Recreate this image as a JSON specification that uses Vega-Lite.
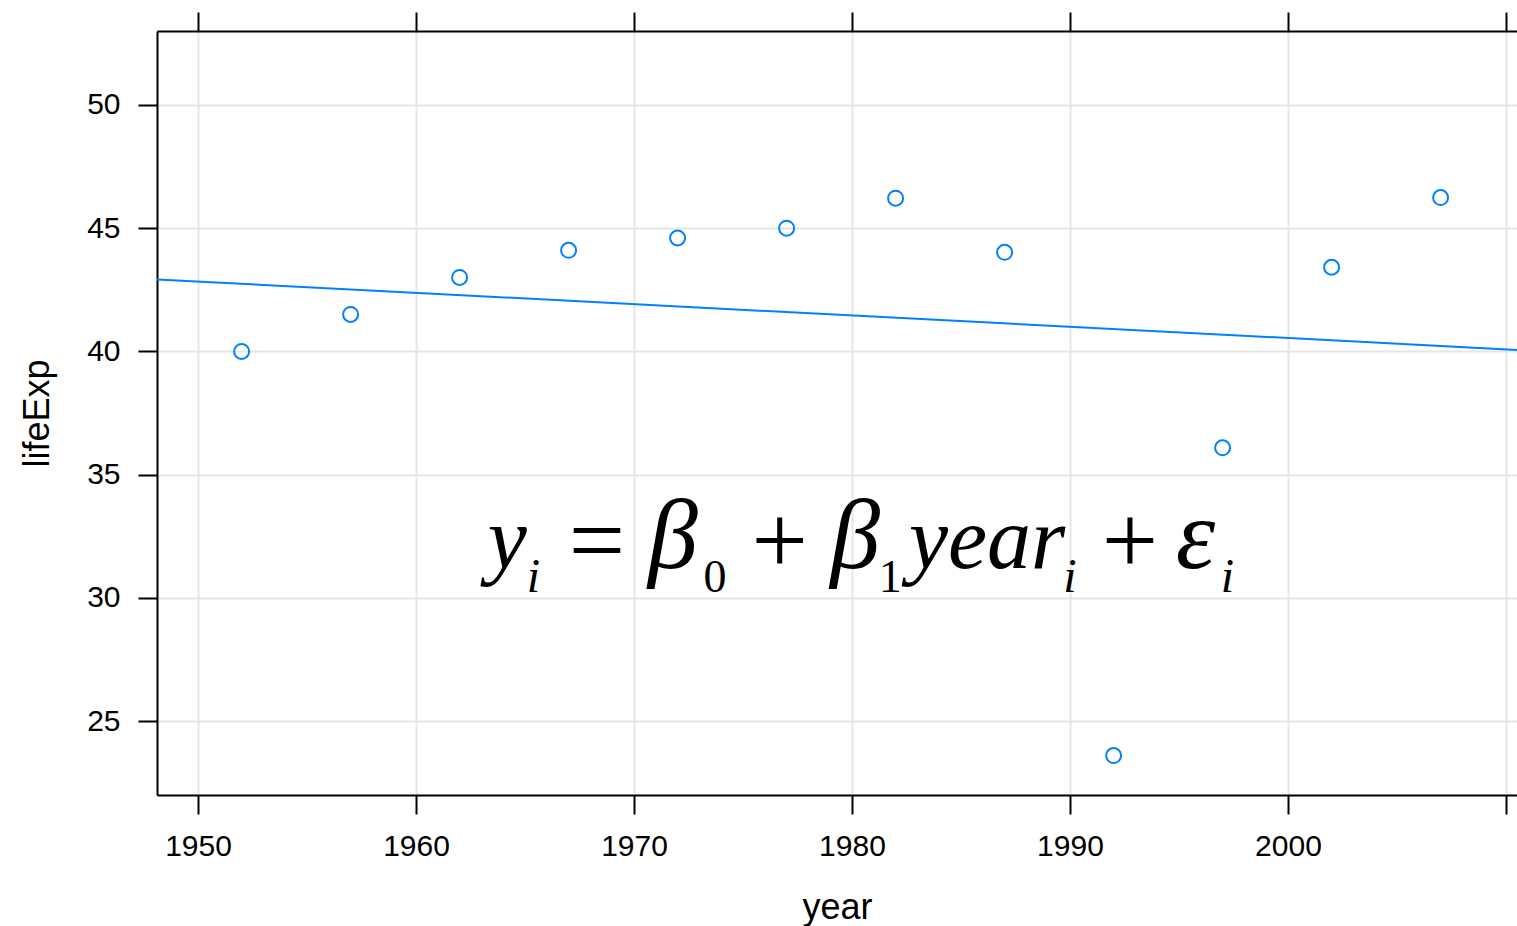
{
  "$schema": "https://vega.github.io/schema/vega-lite/v6.json",
  "autosize": {"type": "none"},
  "padding": {"left": 157, "top": 31, "right": 0, "bottom": 131},
  "width": 1360,
  "height": 764,
  "background": "white",
  "config": {
    "view": {"stroke": null},
    "axis": {
      "domainColor": "black",
      "domainWidth": 2,
      "tickColor": "black",
      "tickWidth": 2,
      "tickSize": 19,
      "labelColor": "black",
      "labelFont": "Liberation Sans",
      "labelFontSize": 30,
      "titleColor": "black",
      "titleFont": "Liberation Sans",
      "titleFontSize": 36,
      "titleFontWeight": "normal",
      "gridColor": "#e6e6e6",
      "gridWidth": 2
    }
  },
  "datasets": {
    "rwanda": [
      {"year": 1952, "lifeExp": 40.0},
      {"year": 1957, "lifeExp": 41.5},
      {"year": 1962, "lifeExp": 43.0},
      {"year": 1967, "lifeExp": 44.1},
      {"year": 1972, "lifeExp": 44.6},
      {"year": 1977, "lifeExp": 45.0},
      {"year": 1982, "lifeExp": 46.218},
      {"year": 1987, "lifeExp": 44.02},
      {"year": 1992, "lifeExp": 23.599},
      {"year": 1997, "lifeExp": 36.087},
      {"year": 2002, "lifeExp": 43.413},
      {"year": 2007, "lifeExp": 46.242}
    ],
    "equation": [
      {"token": "y", "year": 1964.19, "lifeExp": 31.21, "kind": "mi"},
      {"token": "i", "year": 1965.39, "lifeExp": 30.235, "kind": "si"},
      {"token": "=", "year": 1968.3, "lifeExp": 30.97, "kind": "op"},
      {"token": "β", "year": 1971.79, "lifeExp": 31.21, "kind": "gr"},
      {"token": "0", "year": 1973.72, "lifeExp": 30.235, "kind": "su"},
      {"token": "+", "year": 1976.68, "lifeExp": 30.97, "kind": "op"},
      {"token": "β", "year": 1980.14, "lifeExp": 31.21, "kind": "gr"},
      {"token": "1", "year": 1981.75, "lifeExp": 30.235, "kind": "su"},
      {"token": "year", "year": 1986.2, "lifeExp": 31.21, "kind": "mi"},
      {"token": "i", "year": 1990.0, "lifeExp": 30.235, "kind": "si"},
      {"token": "+", "year": 1992.75, "lifeExp": 30.97, "kind": "op"},
      {"token": "ε", "year": 1995.75, "lifeExp": 31.21, "kind": "gr"},
      {"token": "i", "year": 1997.22, "lifeExp": 30.235, "kind": "si"}
    ]
  },
  "resolve": {"axis": {"x": "independent", "y": "independent"}},
  "layer": [
    {
      "data": {"name": "rwanda"},
      "mark": {"type": "point", "shape": "circle", "filled": false, "stroke": "#0080ff", "strokeWidth": 2, "size": 225, "opacity": 1},
      "encoding": {
        "x": {
          "field": "year", "type": "quantitative",
          "scale": {"domain": [1948.119, 2010.505], "nice": false, "zero": false},
          "axis": {"orient": "bottom", "values": [1950, 1960, 1970, 1980, 1990, 2000, 2010], "format": "d", "labelExpr": "datum.value === 2010 ? '' : datum.label", "grid": true, "labelPadding": 17, "title": "year", "titlePadding": 29, "labelFlush": false, "labelOverlap": false}
        },
        "y": {
          "field": "lifeExp", "type": "quantitative",
          "scale": {"domain": [22, 53], "nice": false, "zero": false},
          "axis": {"orient": "left", "values": [25, 30, 35, 40, 45, 50], "grid": true, "labelPadding": 18, "title": "lifeExp", "titlePadding": 30, "labelFlush": false, "labelOverlap": false}
        }
      }
    },
    {
      "data": {"name": "rwanda"},
      "transform": [{"regression": "lifeExp", "on": "year", "extent": [1948.119, 2010.505]}],
      "mark": {"type": "line", "color": "#0080ff", "strokeWidth": 2, "clip": true},
      "encoding": {
        "x": {
          "field": "year", "type": "quantitative",
          "axis": {"orient": "top", "values": [1950, 1960, 1970, 1980, 1990, 2000, 2010], "labels": false, "grid": false, "title": null}
        },
        "y": {"field": "lifeExp", "type": "quantitative", "axis": null}
      }
    },
    {
      "data": {"name": "equation"},
      "transform": [{"filter": "datum.kind === 'mi'"}],
      "mark": {"type": "text", "font": "Liberation Serif", "fontStyle": "italic", "fontSize": 88, "align": "center", "baseline": "alphabetic", "color": "black"},
      "encoding": {
        "x": {"field": "year", "type": "quantitative", "axis": null},
        "y": {"field": "lifeExp", "type": "quantitative", "axis": null},
        "text": {"field": "token"}
      }
    },
    {
      "data": {"name": "equation"},
      "transform": [{"filter": "datum.kind === 'gr'"}],
      "mark": {"type": "text", "font": "Liberation Serif", "fontStyle": "italic", "fontSize": 100, "align": "center", "baseline": "alphabetic", "color": "black"},
      "encoding": {
        "x": {"field": "year", "type": "quantitative", "axis": null},
        "y": {"field": "lifeExp", "type": "quantitative", "axis": null},
        "text": {"field": "token"}
      }
    },
    {
      "data": {"name": "equation"},
      "transform": [{"filter": "datum.kind === 'op'"}],
      "mark": {"type": "text", "font": "Liberation Serif", "fontSize": 100, "align": "center", "baseline": "alphabetic", "color": "black"},
      "encoding": {
        "x": {"field": "year", "type": "quantitative", "axis": null},
        "y": {"field": "lifeExp", "type": "quantitative", "axis": null},
        "text": {"field": "token"}
      }
    },
    {
      "data": {"name": "equation"},
      "transform": [{"filter": "datum.kind === 'si'"}],
      "mark": {"type": "text", "font": "Liberation Serif", "fontStyle": "italic", "fontSize": 48, "align": "center", "baseline": "alphabetic", "color": "black"},
      "encoding": {
        "x": {"field": "year", "type": "quantitative", "axis": null},
        "y": {"field": "lifeExp", "type": "quantitative", "axis": null},
        "text": {"field": "token"}
      }
    },
    {
      "data": {"name": "equation"},
      "transform": [{"filter": "datum.kind === 'su'"}],
      "mark": {"type": "text", "font": "Liberation Serif", "fontSize": 46, "align": "center", "baseline": "alphabetic", "color": "black"},
      "encoding": {
        "x": {"field": "year", "type": "quantitative", "axis": null},
        "y": {"field": "lifeExp", "type": "quantitative", "axis": null},
        "text": {"field": "token"}
      }
    }
  ]
}
